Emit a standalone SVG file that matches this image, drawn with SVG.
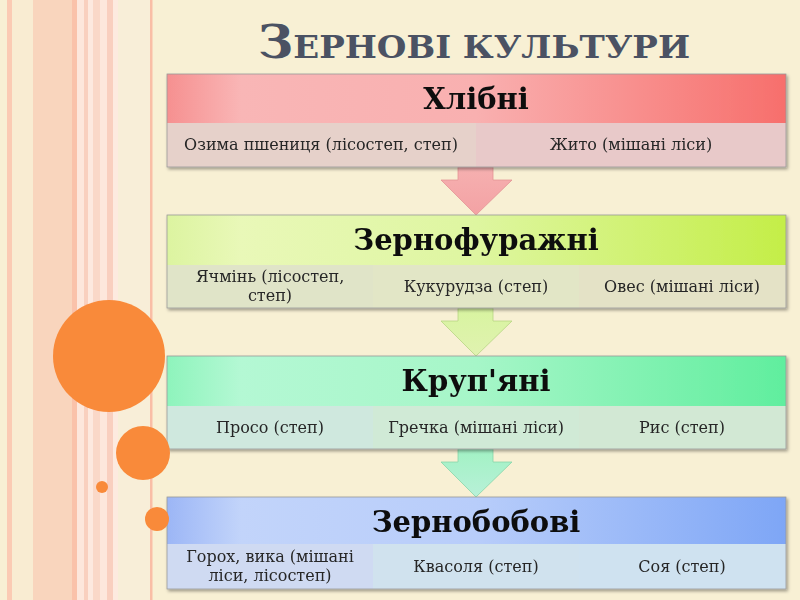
<svg xmlns="http://www.w3.org/2000/svg" width="800" height="600" viewBox="0 0 800 600">
<defs>
<filter id="sh" x="-5%" y="-10%" width="110%" height="130%">
<feDropShadow dx="1.5" dy="2" stdDeviation="1.5" flood-color="#000" flood-opacity="0.35"/>
</filter>
<linearGradient id="h1" x1="0" y1="0" x2="1" y2="0">
<stop offset="0" stop-color="#f69090"/><stop offset="0.12" stop-color="#f9b6b6"/><stop offset="0.5" stop-color="#f9b0b0"/><stop offset="1" stop-color="#f76f6c"/>
</linearGradient>
<linearGradient id="h2" x1="0" y1="0" x2="1" y2="0">
<stop offset="0" stop-color="#dcf4a0"/><stop offset="0.12" stop-color="#e9f8b8"/><stop offset="0.5" stop-color="#def6a0"/><stop offset="1" stop-color="#c4ee48"/>
</linearGradient>
<linearGradient id="h3" x1="0" y1="0" x2="1" y2="0">
<stop offset="0" stop-color="#8ef4bc"/><stop offset="0.12" stop-color="#b4f8d4"/><stop offset="0.5" stop-color="#a6f6c8"/><stop offset="1" stop-color="#60ee9e"/>
</linearGradient>
<linearGradient id="h4" x1="0" y1="0" x2="1" y2="0">
<stop offset="0" stop-color="#9cb6f6"/><stop offset="0.12" stop-color="#c2d4fa"/><stop offset="0.5" stop-color="#b8cdfa"/><stop offset="1" stop-color="#7ea6f6"/>
</linearGradient>
<linearGradient id="a1" x1="0" y1="0" x2="0" y2="1">
<stop offset="0" stop-color="#f6b0b0"/><stop offset="1" stop-color="#f3a2a4"/>
</linearGradient>
<linearGradient id="a2" x1="0" y1="0" x2="0" y2="1">
<stop offset="0" stop-color="#d8f4a0"/><stop offset="1" stop-color="#e0f2b0"/>
</linearGradient>
<linearGradient id="a3" x1="0" y1="0" x2="0" y2="1">
<stop offset="0" stop-color="#a2f2c4"/><stop offset="1" stop-color="#b8f0d8"/>
</linearGradient>
</defs>
<style>
.hd{font-family:"DejaVu Serif","Liberation Serif",serif;font-weight:bold;font-size:29px;fill:#111;text-anchor:middle}
.sb{font-family:"DejaVu Serif","Liberation Serif",serif;font-size:16px;fill:#262626;text-anchor:middle}
.ttl{font-family:"DejaVu Serif","Liberation Serif",serif;font-weight:bold;fill:#4b5263}
.bx{stroke:#9a9a9a;stroke-width:0.8}
.cell{stroke:none}
.orb{fill:#f98a3a}
</style>
<!-- background -->
<rect x="0" y="0" width="800" height="600" fill="#f8f0d4"/>
<g id="stripes">
<rect x="7" y="0" width="5" height="600" fill="#fbcbb4"/>
<rect x="12" y="0" width="21" height="600" fill="#f9ecd2"/>
<rect x="33" y="0" width="39" height="600" fill="#f9d5bd"/>
<rect x="72" y="0" width="5" height="600" fill="#fac2aa"/>
<rect x="77" y="0" width="7" height="600" fill="#fde7dc"/>
<rect x="84" y="0" width="4" height="600" fill="#f9d0bf"/>
<rect x="88" y="0" width="5" height="600" fill="#fde9df"/>
<rect x="93" y="0" width="7" height="600" fill="#fad8c8"/>
<rect x="100" y="0" width="7" height="600" fill="#fde7dc"/>
<rect x="107" y="0" width="6" height="600" fill="#f9cfbf"/>
<rect x="113" y="0" width="5" height="600" fill="#fdeadf"/>
<rect x="118" y="0" width="32" height="600" fill="#f8eed8"/>
<rect x="150" y="0" width="2.5" height="600" fill="#f9bea6"/>
</g>
<!-- title -->
<text class="ttl" x="474" y="58" text-anchor="middle" textLength="432" lengthAdjust="spacingAndGlyphs"><tspan font-size="46">З</tspan><tspan font-size="32">ЕРНОВІ КУЛЬТУРИ</tspan></text>
<!-- connectors -->
<g id="connectors">
<path d="M458,167 L493,167 L493,180 L512,180 L476,215 L441,180 L458,180 Z" fill="url(#a1)" stroke="#e39494" stroke-width="0.8"/>
<path d="M458,308 L493,308 L493,321 L512,321 L476,356 L441,321 L458,321 Z" fill="url(#a2)" stroke="#b8d684" stroke-width="0.8"/>
<path d="M458,449 L493,449 L493,462 L512,462 L476,497 L441,462 L458,462 Z" fill="url(#a3)" stroke="#88d6aa" stroke-width="0.8"/>
</g>
<!-- node 1 -->
<g id="node-khlibni" filter="url(#sh)">
<rect x="167" y="74" width="619" height="49" fill="url(#h1)"/>
<rect class="cell" x="167" y="123" width="309" height="44" fill="#e6d1ca"/>
<rect class="cell" x="476" y="123" width="310" height="44" fill="#e8c9c9"/>
<rect class="bx" x="167" y="74" width="619" height="93" fill="none"/>
<text class="hd" x="476" y="109">Хлібні</text>
<text class="sb" x="321" y="150">Озима пшениця (лісостеп, степ)</text>
<text class="sb" x="631" y="150">Жито (мішані ліси)</text>
</g>
<!-- node 2 -->
<g id="node-zernofurazhni" filter="url(#sh)">
<rect x="167" y="215" width="619" height="50" fill="url(#h2)"/>
<rect class="cell" x="167" y="265" width="206" height="43" fill="#e0e4c8"/>
<rect class="cell" x="373" y="265" width="206" height="43" fill="#e2e6c6"/>
<rect class="cell" x="579" y="265" width="207" height="43" fill="#e4e2c6"/>
<rect class="bx" x="167" y="215" width="619" height="93" fill="none"/>
<text class="hd" x="476" y="250">Зернофуражні</text>
<text class="sb" x="270" y="282">Ячмінь (лісостеп,</text>
<text class="sb" x="270" y="301">степ)</text>
<text class="sb" x="476" y="292">Кукурудза (степ)</text>
<text class="sb" x="682" y="292">Овес (мішані ліси)</text>
</g>
<!-- node 3 -->
<g id="node-krupiani" filter="url(#sh)">
<rect x="167" y="356" width="619" height="50" fill="url(#h3)"/>
<rect class="cell" x="167" y="406" width="206" height="43" fill="#cfe8de"/>
<rect class="cell" x="373" y="406" width="206" height="43" fill="#d0ead6"/>
<rect class="cell" x="579" y="406" width="207" height="43" fill="#d2e8d4"/>
<rect class="bx" x="167" y="356" width="619" height="93" fill="none"/>
<text class="hd" x="476" y="391">Круп'яні</text>
<text class="sb" x="270" y="433">Просо (степ)</text>
<text class="sb" x="476" y="433">Гречка (мішані ліси)</text>
<text class="sb" x="682" y="433">Рис (степ)</text>
</g>
<!-- node 4 -->
<g id="node-zernobobovi" filter="url(#sh)">
<rect x="167" y="497" width="619" height="47" fill="url(#h4)"/>
<rect class="cell" x="167" y="544" width="206" height="45" fill="#cfdaf2"/>
<rect class="cell" x="373" y="544" width="206" height="45" fill="#d0e2ee"/>
<rect class="cell" x="579" y="544" width="207" height="45" fill="#cfe2f0"/>
<rect class="bx" x="167" y="497" width="619" height="92" fill="none"/>
<text class="hd" x="476" y="532">Зернобобові</text>
<text class="sb" x="270" y="562">Горох, вика (мішані</text>
<text class="sb" x="270" y="581">ліси, лісостеп)</text>
<text class="sb" x="476" y="572">Квасоля (степ)</text>
<text class="sb" x="682" y="572">Соя (степ)</text>
</g>
<!-- decorative circles -->
<g id="circles">
<circle class="orb" cx="109" cy="356" r="56"/>
<circle class="orb" cx="143" cy="453" r="27"/>
<circle class="orb" cx="102" cy="487" r="6"/>
<circle class="orb" cx="157" cy="519" r="12"/>
</g>
</svg>
